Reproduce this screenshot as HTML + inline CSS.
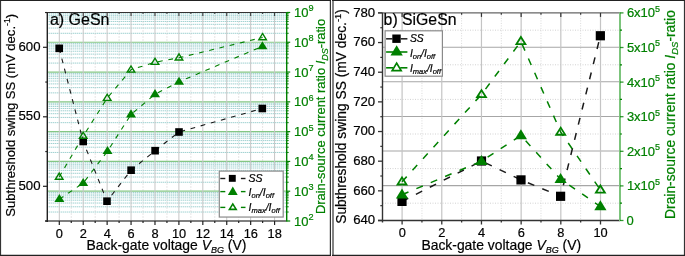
<!DOCTYPE html>
<html><head><meta charset="utf-8"><style>
html,body{margin:0;padding:0;background:#fff;width:685px;height:256px;overflow:hidden}
svg{will-change:transform}
text{font-family:"Liberation Sans",sans-serif;stroke:currentColor;stroke-width:0.2px;paint-order:stroke}
</style></head><body>
<svg width="685" height="256" viewBox="0 0 685 256" style="display:block" font-family='"Liberation Sans", sans-serif'><rect width="685" height="256" fill="#fff"/><line x1="47.3" x2="286.7" y1="212.03" y2="212.03" stroke="#4aa8a8" stroke-width="1" stroke-dasharray="1 1" opacity="0.75"/>
<line x1="47.3" x2="286.7" y1="206.79" y2="206.79" stroke="#4aa8a8" stroke-width="1" stroke-dasharray="1 1" opacity="0.75"/>
<line x1="47.3" x2="286.7" y1="203.06" y2="203.06" stroke="#4aa8a8" stroke-width="1" stroke-dasharray="1 1" opacity="0.75"/>
<line x1="47.3" x2="286.7" y1="200.18" y2="200.18" stroke="#4aa8a8" stroke-width="1" stroke-dasharray="1 1" opacity="0.75"/>
<line x1="47.3" x2="286.7" y1="197.82" y2="197.82" stroke="#4aa8a8" stroke-width="1" stroke-dasharray="1 1" opacity="0.75"/>
<line x1="47.3" x2="286.7" y1="195.82" y2="195.82" stroke="#4aa8a8" stroke-width="1" stroke-dasharray="1 1" opacity="0.75"/>
<line x1="47.3" x2="286.7" y1="194.1" y2="194.1" stroke="#4aa8a8" stroke-width="1" stroke-dasharray="1 1" opacity="0.75"/>
<line x1="47.3" x2="286.7" y1="192.57" y2="192.57" stroke="#4aa8a8" stroke-width="1" stroke-dasharray="1 1" opacity="0.75"/>
<line x1="47.3" x2="286.7" y1="182.24" y2="182.24" stroke="#4aa8a8" stroke-width="1" stroke-dasharray="1 1" opacity="0.75"/>
<line x1="47.3" x2="286.7" y1="177" y2="177" stroke="#4aa8a8" stroke-width="1" stroke-dasharray="1 1" opacity="0.75"/>
<line x1="47.3" x2="286.7" y1="173.27" y2="173.27" stroke="#4aa8a8" stroke-width="1" stroke-dasharray="1 1" opacity="0.75"/>
<line x1="47.3" x2="286.7" y1="170.39" y2="170.39" stroke="#4aa8a8" stroke-width="1" stroke-dasharray="1 1" opacity="0.75"/>
<line x1="47.3" x2="286.7" y1="168.03" y2="168.03" stroke="#4aa8a8" stroke-width="1" stroke-dasharray="1 1" opacity="0.75"/>
<line x1="47.3" x2="286.7" y1="166.03" y2="166.03" stroke="#4aa8a8" stroke-width="1" stroke-dasharray="1 1" opacity="0.75"/>
<line x1="47.3" x2="286.7" y1="164.31" y2="164.31" stroke="#4aa8a8" stroke-width="1" stroke-dasharray="1 1" opacity="0.75"/>
<line x1="47.3" x2="286.7" y1="162.78" y2="162.78" stroke="#4aa8a8" stroke-width="1" stroke-dasharray="1 1" opacity="0.75"/>
<line x1="47.3" x2="286.7" y1="152.45" y2="152.45" stroke="#4aa8a8" stroke-width="1" stroke-dasharray="1 1" opacity="0.75"/>
<line x1="47.3" x2="286.7" y1="147.21" y2="147.21" stroke="#4aa8a8" stroke-width="1" stroke-dasharray="1 1" opacity="0.75"/>
<line x1="47.3" x2="286.7" y1="143.48" y2="143.48" stroke="#4aa8a8" stroke-width="1" stroke-dasharray="1 1" opacity="0.75"/>
<line x1="47.3" x2="286.7" y1="140.6" y2="140.6" stroke="#4aa8a8" stroke-width="1" stroke-dasharray="1 1" opacity="0.75"/>
<line x1="47.3" x2="286.7" y1="138.24" y2="138.24" stroke="#4aa8a8" stroke-width="1" stroke-dasharray="1 1" opacity="0.75"/>
<line x1="47.3" x2="286.7" y1="136.24" y2="136.24" stroke="#4aa8a8" stroke-width="1" stroke-dasharray="1 1" opacity="0.75"/>
<line x1="47.3" x2="286.7" y1="134.52" y2="134.52" stroke="#4aa8a8" stroke-width="1" stroke-dasharray="1 1" opacity="0.75"/>
<line x1="47.3" x2="286.7" y1="132.99" y2="132.99" stroke="#4aa8a8" stroke-width="1" stroke-dasharray="1 1" opacity="0.75"/>
<line x1="47.3" x2="286.7" y1="122.66" y2="122.66" stroke="#4aa8a8" stroke-width="1" stroke-dasharray="1 1" opacity="0.75"/>
<line x1="47.3" x2="286.7" y1="117.42" y2="117.42" stroke="#4aa8a8" stroke-width="1" stroke-dasharray="1 1" opacity="0.75"/>
<line x1="47.3" x2="286.7" y1="113.69" y2="113.69" stroke="#4aa8a8" stroke-width="1" stroke-dasharray="1 1" opacity="0.75"/>
<line x1="47.3" x2="286.7" y1="110.81" y2="110.81" stroke="#4aa8a8" stroke-width="1" stroke-dasharray="1 1" opacity="0.75"/>
<line x1="47.3" x2="286.7" y1="108.45" y2="108.45" stroke="#4aa8a8" stroke-width="1" stroke-dasharray="1 1" opacity="0.75"/>
<line x1="47.3" x2="286.7" y1="106.45" y2="106.45" stroke="#4aa8a8" stroke-width="1" stroke-dasharray="1 1" opacity="0.75"/>
<line x1="47.3" x2="286.7" y1="104.73" y2="104.73" stroke="#4aa8a8" stroke-width="1" stroke-dasharray="1 1" opacity="0.75"/>
<line x1="47.3" x2="286.7" y1="103.2" y2="103.2" stroke="#4aa8a8" stroke-width="1" stroke-dasharray="1 1" opacity="0.75"/>
<line x1="47.3" x2="286.7" y1="92.87" y2="92.87" stroke="#4aa8a8" stroke-width="1" stroke-dasharray="1 1" opacity="0.75"/>
<line x1="47.3" x2="286.7" y1="87.63" y2="87.63" stroke="#4aa8a8" stroke-width="1" stroke-dasharray="1 1" opacity="0.75"/>
<line x1="47.3" x2="286.7" y1="83.9" y2="83.9" stroke="#4aa8a8" stroke-width="1" stroke-dasharray="1 1" opacity="0.75"/>
<line x1="47.3" x2="286.7" y1="81.02" y2="81.02" stroke="#4aa8a8" stroke-width="1" stroke-dasharray="1 1" opacity="0.75"/>
<line x1="47.3" x2="286.7" y1="78.66" y2="78.66" stroke="#4aa8a8" stroke-width="1" stroke-dasharray="1 1" opacity="0.75"/>
<line x1="47.3" x2="286.7" y1="76.66" y2="76.66" stroke="#4aa8a8" stroke-width="1" stroke-dasharray="1 1" opacity="0.75"/>
<line x1="47.3" x2="286.7" y1="74.94" y2="74.94" stroke="#4aa8a8" stroke-width="1" stroke-dasharray="1 1" opacity="0.75"/>
<line x1="47.3" x2="286.7" y1="73.41" y2="73.41" stroke="#4aa8a8" stroke-width="1" stroke-dasharray="1 1" opacity="0.75"/>
<line x1="47.3" x2="286.7" y1="63.08" y2="63.08" stroke="#4aa8a8" stroke-width="1" stroke-dasharray="1 1" opacity="0.75"/>
<line x1="47.3" x2="286.7" y1="57.84" y2="57.84" stroke="#4aa8a8" stroke-width="1" stroke-dasharray="1 1" opacity="0.75"/>
<line x1="47.3" x2="286.7" y1="54.11" y2="54.11" stroke="#4aa8a8" stroke-width="1" stroke-dasharray="1 1" opacity="0.75"/>
<line x1="47.3" x2="286.7" y1="51.23" y2="51.23" stroke="#4aa8a8" stroke-width="1" stroke-dasharray="1 1" opacity="0.75"/>
<line x1="47.3" x2="286.7" y1="48.87" y2="48.87" stroke="#4aa8a8" stroke-width="1" stroke-dasharray="1 1" opacity="0.75"/>
<line x1="47.3" x2="286.7" y1="46.87" y2="46.87" stroke="#4aa8a8" stroke-width="1" stroke-dasharray="1 1" opacity="0.75"/>
<line x1="47.3" x2="286.7" y1="45.15" y2="45.15" stroke="#4aa8a8" stroke-width="1" stroke-dasharray="1 1" opacity="0.75"/>
<line x1="47.3" x2="286.7" y1="43.62" y2="43.62" stroke="#4aa8a8" stroke-width="1" stroke-dasharray="1 1" opacity="0.75"/>
<line x1="47.3" x2="286.7" y1="33.29" y2="33.29" stroke="#4aa8a8" stroke-width="1" stroke-dasharray="1 1" opacity="0.75"/>
<line x1="47.3" x2="286.7" y1="28.05" y2="28.05" stroke="#4aa8a8" stroke-width="1" stroke-dasharray="1 1" opacity="0.75"/>
<line x1="47.3" x2="286.7" y1="24.32" y2="24.32" stroke="#4aa8a8" stroke-width="1" stroke-dasharray="1 1" opacity="0.75"/>
<line x1="47.3" x2="286.7" y1="21.44" y2="21.44" stroke="#4aa8a8" stroke-width="1" stroke-dasharray="1 1" opacity="0.75"/>
<line x1="47.3" x2="286.7" y1="19.08" y2="19.08" stroke="#4aa8a8" stroke-width="1" stroke-dasharray="1 1" opacity="0.75"/>
<line x1="47.3" x2="286.7" y1="17.08" y2="17.08" stroke="#4aa8a8" stroke-width="1" stroke-dasharray="1 1" opacity="0.75"/>
<line x1="47.3" x2="286.7" y1="15.36" y2="15.36" stroke="#4aa8a8" stroke-width="1" stroke-dasharray="1 1" opacity="0.75"/>
<line x1="47.3" x2="286.7" y1="13.83" y2="13.83" stroke="#4aa8a8" stroke-width="1" stroke-dasharray="1 1" opacity="0.75"/>
<line x1="71.26" x2="71.26" y1="12.5" y2="221.0" stroke="#ccc" stroke-width="1" stroke-dasharray="1 2"/>
<line x1="95.18" x2="95.18" y1="12.5" y2="221.0" stroke="#ccc" stroke-width="1" stroke-dasharray="1 2"/>
<line x1="119.1" x2="119.1" y1="12.5" y2="221.0" stroke="#ccc" stroke-width="1" stroke-dasharray="1 2"/>
<line x1="143.02" x2="143.02" y1="12.5" y2="221.0" stroke="#ccc" stroke-width="1" stroke-dasharray="1 2"/>
<line x1="166.94" x2="166.94" y1="12.5" y2="221.0" stroke="#ccc" stroke-width="1" stroke-dasharray="1 2"/>
<line x1="190.86" x2="190.86" y1="12.5" y2="221.0" stroke="#ccc" stroke-width="1" stroke-dasharray="1 2"/>
<line x1="214.78" x2="214.78" y1="12.5" y2="221.0" stroke="#ccc" stroke-width="1" stroke-dasharray="1 2"/>
<line x1="238.7" x2="238.7" y1="12.5" y2="221.0" stroke="#ccc" stroke-width="1" stroke-dasharray="1 2"/>
<line x1="262.62" x2="262.62" y1="12.5" y2="221.0" stroke="#ccc" stroke-width="1" stroke-dasharray="1 2"/>
<line x1="47.3" x2="286.7" y1="191.21" y2="191.21" stroke="#84c784" stroke-width="1.2"/>
<line x1="47.3" x2="286.7" y1="161.42" y2="161.42" stroke="#84c784" stroke-width="1.2"/>
<line x1="47.3" x2="286.7" y1="131.63" y2="131.63" stroke="#84c784" stroke-width="1.2"/>
<line x1="47.3" x2="286.7" y1="101.84" y2="101.84" stroke="#84c784" stroke-width="1.2"/>
<line x1="47.3" x2="286.7" y1="72.05" y2="72.05" stroke="#84c784" stroke-width="1.2"/>
<line x1="47.3" x2="286.7" y1="42.26" y2="42.26" stroke="#84c784" stroke-width="1.2"/>
<line x1="59.3" x2="59.3" y1="12.5" y2="221.0" stroke="#c6c6c6" stroke-width="1"/>
<line x1="83.22" x2="83.22" y1="12.5" y2="221.0" stroke="#c6c6c6" stroke-width="1"/>
<line x1="107.14" x2="107.14" y1="12.5" y2="221.0" stroke="#c6c6c6" stroke-width="1"/>
<line x1="131.06" x2="131.06" y1="12.5" y2="221.0" stroke="#c6c6c6" stroke-width="1"/>
<line x1="154.98" x2="154.98" y1="12.5" y2="221.0" stroke="#c6c6c6" stroke-width="1"/>
<line x1="178.9" x2="178.9" y1="12.5" y2="221.0" stroke="#c6c6c6" stroke-width="1"/>
<line x1="202.82" x2="202.82" y1="12.5" y2="221.0" stroke="#c6c6c6" stroke-width="1"/>
<line x1="226.74" x2="226.74" y1="12.5" y2="221.0" stroke="#c6c6c6" stroke-width="1"/>
<line x1="250.66" x2="250.66" y1="12.5" y2="221.0" stroke="#c6c6c6" stroke-width="1"/>
<line x1="274.58" x2="274.58" y1="12.5" y2="221.0" stroke="#c6c6c6" stroke-width="1"/>
<line x1="45" x2="286.7" y1="12.5" y2="12.5" stroke="#333" stroke-width="1"/>
<line x1="45" x2="286.7" y1="221.0" y2="221.0" stroke="#555" stroke-width="1.4"/>
<line x1="47.3" x2="47.3" y1="12.5" y2="222.0" stroke="#222" stroke-width="1.4"/>
<line x1="43" x2="47.3" y1="186.3" y2="186.3" stroke="#222" stroke-width="1.2"/>
<line x1="43" x2="47.3" y1="116.8" y2="116.8" stroke="#222" stroke-width="1.2"/>
<line x1="43" x2="47.3" y1="47.3" y2="47.3" stroke="#222" stroke-width="1.2"/>
<line x1="45.3" x2="47.3" y1="221.05" y2="221.05" stroke="#222" stroke-width="1.2"/>
<line x1="45.3" x2="47.3" y1="151.55" y2="151.55" stroke="#222" stroke-width="1.2"/>
<line x1="45.3" x2="47.3" y1="82.05" y2="82.05" stroke="#222" stroke-width="1.2"/>
<line x1="45.3" x2="47.3" y1="12.55" y2="12.55" stroke="#222" stroke-width="1.2"/>
<line x1="59.3" x2="59.3" y1="221.0" y2="225" stroke="#222" stroke-width="1.2"/>
<line x1="59.3" x2="59.3" y1="12.5" y2="16" stroke="#333" stroke-width="1"/>
<line x1="71.26" x2="71.26" y1="221.0" y2="223" stroke="#222" stroke-width="1.2"/>
<line x1="71.26" x2="71.26" y1="12.5" y2="14" stroke="#333" stroke-width="1"/>
<line x1="83.22" x2="83.22" y1="221.0" y2="225" stroke="#222" stroke-width="1.2"/>
<line x1="83.22" x2="83.22" y1="12.5" y2="16" stroke="#333" stroke-width="1"/>
<line x1="95.18" x2="95.18" y1="221.0" y2="223" stroke="#222" stroke-width="1.2"/>
<line x1="95.18" x2="95.18" y1="12.5" y2="14" stroke="#333" stroke-width="1"/>
<line x1="107.14" x2="107.14" y1="221.0" y2="225" stroke="#222" stroke-width="1.2"/>
<line x1="107.14" x2="107.14" y1="12.5" y2="16" stroke="#333" stroke-width="1"/>
<line x1="119.1" x2="119.1" y1="221.0" y2="223" stroke="#222" stroke-width="1.2"/>
<line x1="119.1" x2="119.1" y1="12.5" y2="14" stroke="#333" stroke-width="1"/>
<line x1="131.06" x2="131.06" y1="221.0" y2="225" stroke="#222" stroke-width="1.2"/>
<line x1="131.06" x2="131.06" y1="12.5" y2="16" stroke="#333" stroke-width="1"/>
<line x1="143.02" x2="143.02" y1="221.0" y2="223" stroke="#222" stroke-width="1.2"/>
<line x1="143.02" x2="143.02" y1="12.5" y2="14" stroke="#333" stroke-width="1"/>
<line x1="154.98" x2="154.98" y1="221.0" y2="225" stroke="#222" stroke-width="1.2"/>
<line x1="154.98" x2="154.98" y1="12.5" y2="16" stroke="#333" stroke-width="1"/>
<line x1="166.94" x2="166.94" y1="221.0" y2="223" stroke="#222" stroke-width="1.2"/>
<line x1="166.94" x2="166.94" y1="12.5" y2="14" stroke="#333" stroke-width="1"/>
<line x1="178.9" x2="178.9" y1="221.0" y2="225" stroke="#222" stroke-width="1.2"/>
<line x1="178.9" x2="178.9" y1="12.5" y2="16" stroke="#333" stroke-width="1"/>
<line x1="190.86" x2="190.86" y1="221.0" y2="223" stroke="#222" stroke-width="1.2"/>
<line x1="190.86" x2="190.86" y1="12.5" y2="14" stroke="#333" stroke-width="1"/>
<line x1="202.82" x2="202.82" y1="221.0" y2="225" stroke="#222" stroke-width="1.2"/>
<line x1="202.82" x2="202.82" y1="12.5" y2="16" stroke="#333" stroke-width="1"/>
<line x1="214.78" x2="214.78" y1="221.0" y2="223" stroke="#222" stroke-width="1.2"/>
<line x1="214.78" x2="214.78" y1="12.5" y2="14" stroke="#333" stroke-width="1"/>
<line x1="226.74" x2="226.74" y1="221.0" y2="225" stroke="#222" stroke-width="1.2"/>
<line x1="226.74" x2="226.74" y1="12.5" y2="16" stroke="#333" stroke-width="1"/>
<line x1="238.7" x2="238.7" y1="221.0" y2="223" stroke="#222" stroke-width="1.2"/>
<line x1="238.7" x2="238.7" y1="12.5" y2="14" stroke="#333" stroke-width="1"/>
<line x1="250.66" x2="250.66" y1="221.0" y2="225" stroke="#222" stroke-width="1.2"/>
<line x1="250.66" x2="250.66" y1="12.5" y2="16" stroke="#333" stroke-width="1"/>
<line x1="262.62" x2="262.62" y1="221.0" y2="223" stroke="#222" stroke-width="1.2"/>
<line x1="262.62" x2="262.62" y1="12.5" y2="14" stroke="#333" stroke-width="1"/>
<line x1="274.58" x2="274.58" y1="221.0" y2="225" stroke="#222" stroke-width="1.2"/>
<line x1="274.58" x2="274.58" y1="12.5" y2="16" stroke="#333" stroke-width="1"/>
<line x1="286.7" x2="286.7" y1="12.0" y2="221.5" stroke="#008000" stroke-width="1.4"/>
<line x1="286.7" x2="290.2" y1="221" y2="221" stroke="#008000" stroke-width="1.2"/>
<line x1="286.7" x2="288.7" y1="212.03" y2="212.03" stroke="#008000" stroke-width="1"/>
<line x1="286.7" x2="288.7" y1="206.79" y2="206.79" stroke="#008000" stroke-width="1"/>
<line x1="286.7" x2="288.7" y1="203.06" y2="203.06" stroke="#008000" stroke-width="1"/>
<line x1="286.7" x2="288.7" y1="200.18" y2="200.18" stroke="#008000" stroke-width="1"/>
<line x1="286.7" x2="288.7" y1="197.82" y2="197.82" stroke="#008000" stroke-width="1"/>
<line x1="286.7" x2="288.7" y1="195.82" y2="195.82" stroke="#008000" stroke-width="1"/>
<line x1="286.7" x2="288.7" y1="194.1" y2="194.1" stroke="#008000" stroke-width="1"/>
<line x1="286.7" x2="288.7" y1="192.57" y2="192.57" stroke="#008000" stroke-width="1"/>
<line x1="286.7" x2="290.2" y1="191.21" y2="191.21" stroke="#008000" stroke-width="1.2"/>
<line x1="286.7" x2="288.7" y1="182.24" y2="182.24" stroke="#008000" stroke-width="1"/>
<line x1="286.7" x2="288.7" y1="177" y2="177" stroke="#008000" stroke-width="1"/>
<line x1="286.7" x2="288.7" y1="173.27" y2="173.27" stroke="#008000" stroke-width="1"/>
<line x1="286.7" x2="288.7" y1="170.39" y2="170.39" stroke="#008000" stroke-width="1"/>
<line x1="286.7" x2="288.7" y1="168.03" y2="168.03" stroke="#008000" stroke-width="1"/>
<line x1="286.7" x2="288.7" y1="166.03" y2="166.03" stroke="#008000" stroke-width="1"/>
<line x1="286.7" x2="288.7" y1="164.31" y2="164.31" stroke="#008000" stroke-width="1"/>
<line x1="286.7" x2="288.7" y1="162.78" y2="162.78" stroke="#008000" stroke-width="1"/>
<line x1="286.7" x2="290.2" y1="161.42" y2="161.42" stroke="#008000" stroke-width="1.2"/>
<line x1="286.7" x2="288.7" y1="152.45" y2="152.45" stroke="#008000" stroke-width="1"/>
<line x1="286.7" x2="288.7" y1="147.21" y2="147.21" stroke="#008000" stroke-width="1"/>
<line x1="286.7" x2="288.7" y1="143.48" y2="143.48" stroke="#008000" stroke-width="1"/>
<line x1="286.7" x2="288.7" y1="140.6" y2="140.6" stroke="#008000" stroke-width="1"/>
<line x1="286.7" x2="288.7" y1="138.24" y2="138.24" stroke="#008000" stroke-width="1"/>
<line x1="286.7" x2="288.7" y1="136.24" y2="136.24" stroke="#008000" stroke-width="1"/>
<line x1="286.7" x2="288.7" y1="134.52" y2="134.52" stroke="#008000" stroke-width="1"/>
<line x1="286.7" x2="288.7" y1="132.99" y2="132.99" stroke="#008000" stroke-width="1"/>
<line x1="286.7" x2="290.2" y1="131.63" y2="131.63" stroke="#008000" stroke-width="1.2"/>
<line x1="286.7" x2="288.7" y1="122.66" y2="122.66" stroke="#008000" stroke-width="1"/>
<line x1="286.7" x2="288.7" y1="117.42" y2="117.42" stroke="#008000" stroke-width="1"/>
<line x1="286.7" x2="288.7" y1="113.69" y2="113.69" stroke="#008000" stroke-width="1"/>
<line x1="286.7" x2="288.7" y1="110.81" y2="110.81" stroke="#008000" stroke-width="1"/>
<line x1="286.7" x2="288.7" y1="108.45" y2="108.45" stroke="#008000" stroke-width="1"/>
<line x1="286.7" x2="288.7" y1="106.45" y2="106.45" stroke="#008000" stroke-width="1"/>
<line x1="286.7" x2="288.7" y1="104.73" y2="104.73" stroke="#008000" stroke-width="1"/>
<line x1="286.7" x2="288.7" y1="103.2" y2="103.2" stroke="#008000" stroke-width="1"/>
<line x1="286.7" x2="290.2" y1="101.84" y2="101.84" stroke="#008000" stroke-width="1.2"/>
<line x1="286.7" x2="288.7" y1="92.87" y2="92.87" stroke="#008000" stroke-width="1"/>
<line x1="286.7" x2="288.7" y1="87.63" y2="87.63" stroke="#008000" stroke-width="1"/>
<line x1="286.7" x2="288.7" y1="83.9" y2="83.9" stroke="#008000" stroke-width="1"/>
<line x1="286.7" x2="288.7" y1="81.02" y2="81.02" stroke="#008000" stroke-width="1"/>
<line x1="286.7" x2="288.7" y1="78.66" y2="78.66" stroke="#008000" stroke-width="1"/>
<line x1="286.7" x2="288.7" y1="76.66" y2="76.66" stroke="#008000" stroke-width="1"/>
<line x1="286.7" x2="288.7" y1="74.94" y2="74.94" stroke="#008000" stroke-width="1"/>
<line x1="286.7" x2="288.7" y1="73.41" y2="73.41" stroke="#008000" stroke-width="1"/>
<line x1="286.7" x2="290.2" y1="72.05" y2="72.05" stroke="#008000" stroke-width="1.2"/>
<line x1="286.7" x2="288.7" y1="63.08" y2="63.08" stroke="#008000" stroke-width="1"/>
<line x1="286.7" x2="288.7" y1="57.84" y2="57.84" stroke="#008000" stroke-width="1"/>
<line x1="286.7" x2="288.7" y1="54.11" y2="54.11" stroke="#008000" stroke-width="1"/>
<line x1="286.7" x2="288.7" y1="51.23" y2="51.23" stroke="#008000" stroke-width="1"/>
<line x1="286.7" x2="288.7" y1="48.87" y2="48.87" stroke="#008000" stroke-width="1"/>
<line x1="286.7" x2="288.7" y1="46.87" y2="46.87" stroke="#008000" stroke-width="1"/>
<line x1="286.7" x2="288.7" y1="45.15" y2="45.15" stroke="#008000" stroke-width="1"/>
<line x1="286.7" x2="288.7" y1="43.62" y2="43.62" stroke="#008000" stroke-width="1"/>
<line x1="286.7" x2="290.2" y1="42.26" y2="42.26" stroke="#008000" stroke-width="1.2"/>
<line x1="286.7" x2="288.7" y1="33.29" y2="33.29" stroke="#008000" stroke-width="1"/>
<line x1="286.7" x2="288.7" y1="28.05" y2="28.05" stroke="#008000" stroke-width="1"/>
<line x1="286.7" x2="288.7" y1="24.32" y2="24.32" stroke="#008000" stroke-width="1"/>
<line x1="286.7" x2="288.7" y1="21.44" y2="21.44" stroke="#008000" stroke-width="1"/>
<line x1="286.7" x2="288.7" y1="19.08" y2="19.08" stroke="#008000" stroke-width="1"/>
<line x1="286.7" x2="288.7" y1="17.08" y2="17.08" stroke="#008000" stroke-width="1"/>
<line x1="286.7" x2="288.7" y1="15.36" y2="15.36" stroke="#008000" stroke-width="1"/>
<line x1="286.7" x2="288.7" y1="13.83" y2="13.83" stroke="#008000" stroke-width="1"/>
<line x1="286.7" x2="290.2" y1="12.47" y2="12.47" stroke="#008000" stroke-width="1.2"/>
<polyline points="59.2,48.35 83.2,141.5 107,201.2 131.1,170.2 155.1,150.7 179,132 262.3,108.5" fill="none" stroke="#1a1a1a" stroke-width="1.1" stroke-dasharray="4.8 5.7"/>
<polyline points="59.4,199.14 83.2,183.11 107.5,151.19 131,114.49 155,94.24 179,81.81 262.4,46.34" fill="none" stroke="#008000" stroke-width="1.1" stroke-dasharray="4.8 5.7"/>
<polyline points="59.2,176.92 83.2,136.09 107.2,98.09 131,69.75 155,62.22 179,57.78 262.6,37.47" fill="none" stroke="#008000" stroke-width="1.1" stroke-dasharray="4.8 5.7"/>
<rect x="55.4" y="44.55" width="7.6" height="7.6" fill="#000"/>
<rect x="79.4" y="137.7" width="7.6" height="7.6" fill="#000"/>
<rect x="103.2" y="197.4" width="7.6" height="7.6" fill="#000"/>
<rect x="127.3" y="166.4" width="7.6" height="7.6" fill="#000"/>
<rect x="151.3" y="146.9" width="7.6" height="7.6" fill="#000"/>
<rect x="175.2" y="128.2" width="7.6" height="7.6" fill="#000"/>
<rect x="258.5" y="104.7" width="7.6" height="7.6" fill="#000"/>
<polygon points="59.4,193.93 54.4,202.03 64.4,202.03" fill="#008000"/>
<polygon points="83.2,178 78.2,186.1 88.2,186.1" fill="#008000"/>
<polygon points="107.5,146 102.5,154.1 112.5,154.1" fill="#008000"/>
<polygon points="131,109.3 126,117.4 136,117.4" fill="#008000"/>
<polygon points="155,89.1 150,97.2 160,97.2" fill="#008000"/>
<polygon points="179,76.7 174,84.8 184,84.8" fill="#008000"/>
<polygon points="262.4,41.2 257.4,49.3 267.4,49.3" fill="#008000"/>
<path d="M59.2,171.75 L54.15,179.95 L64.25,179.95 Z M59.2,174.42 L56.66,178.55 L61.74,178.55 Z" fill="#008000" fill-rule="evenodd"/>
<path d="M83.2,130.9 L78.15,139.1 L88.25,139.1 Z M83.2,133.57 L80.66,137.7 L85.74,137.7 Z" fill="#008000" fill-rule="evenodd"/>
<path d="M107.2,92.9 L102.15,101.1 L112.25,101.1 Z M107.2,95.57 L104.66,99.7 L109.74,99.7 Z" fill="#008000" fill-rule="evenodd"/>
<path d="M131,64.65 L125.95,72.85 L136.05,72.85 Z M131,67.32 L128.46,71.45 L133.54,71.45 Z" fill="#008000" fill-rule="evenodd"/>
<path d="M155,56.9 L149.95,65.1 L160.05,65.1 Z M155,59.57 L152.46,63.7 L157.54,63.7 Z" fill="#008000" fill-rule="evenodd"/>
<path d="M179,52.55 L173.95,60.75 L184.05,60.75 Z M179,55.22 L176.46,59.35 L181.54,59.35 Z" fill="#008000" fill-rule="evenodd"/>
<path d="M262.6,32.2 L257.55,40.4 L267.65,40.4 Z M262.6,34.87 L260.06,39 L265.14,39 Z" fill="#008000" fill-rule="evenodd"/>
<rect x="219.3" y="171.1" width="63.9" height="45.95" fill="#fff" stroke="#8a8a8a" stroke-width="1.2"/>
<line x1="220.3" x2="225.3" y1="178.5" y2="178.5" stroke="#1a1a1a" stroke-width="1.4"/>
<line x1="240.9" x2="245.5" y1="178.5" y2="178.5" stroke="#1a1a1a" stroke-width="1.4"/>
<line x1="220.3" x2="225.3" y1="191.6" y2="191.6" stroke="#008000" stroke-width="1.4"/>
<line x1="240.9" x2="245.5" y1="191.6" y2="191.6" stroke="#008000" stroke-width="1.4"/>
<line x1="220.3" x2="225.3" y1="207.4" y2="207.4" stroke="#008000" stroke-width="1.4"/>
<line x1="240.9" x2="245.5" y1="207.4" y2="207.4" stroke="#008000" stroke-width="1.4"/>
<rect x="228.85" y="174.9" width="6.9" height="6.9" fill="#000"/>
<polygon points="232.8,186.4 227.9,194.9 237.7,194.9" fill="#008000"/>
<path d="M232.8,202.4 L228,210.2 L237.6,210.2 Z M232.8,205.45 L230.86,208.6 L234.74,208.6 Z" fill="#008000" fill-rule="evenodd"/>
<line x1="382.5" x2="620.0" y1="203.2" y2="203.2" stroke="#d2d2d2" stroke-width="1" stroke-dasharray="1 1.5"/>
<line x1="382.5" x2="620.0" y1="168.6" y2="168.6" stroke="#d2d2d2" stroke-width="1" stroke-dasharray="1 1.5"/>
<line x1="382.5" x2="620.0" y1="134" y2="134" stroke="#d2d2d2" stroke-width="1" stroke-dasharray="1 1.5"/>
<line x1="382.5" x2="620.0" y1="99.4" y2="99.4" stroke="#d2d2d2" stroke-width="1" stroke-dasharray="1 1.5"/>
<line x1="382.5" x2="620.0" y1="64.8" y2="64.8" stroke="#d2d2d2" stroke-width="1" stroke-dasharray="1 1.5"/>
<line x1="382.5" x2="620.0" y1="30.2" y2="30.2" stroke="#d2d2d2" stroke-width="1" stroke-dasharray="1 1.5"/>
<line x1="421.94" x2="421.94" y1="12.9" y2="220.5" stroke="#d8d8d8" stroke-width="1" stroke-dasharray="1 1.5"/>
<line x1="461.62" x2="461.62" y1="12.9" y2="220.5" stroke="#d8d8d8" stroke-width="1" stroke-dasharray="1 1.5"/>
<line x1="501.3" x2="501.3" y1="12.9" y2="220.5" stroke="#d8d8d8" stroke-width="1" stroke-dasharray="1 1.5"/>
<line x1="540.98" x2="540.98" y1="12.9" y2="220.5" stroke="#d8d8d8" stroke-width="1" stroke-dasharray="1 1.5"/>
<line x1="580.66" x2="580.66" y1="12.9" y2="220.5" stroke="#d8d8d8" stroke-width="1" stroke-dasharray="1 1.5"/>
<line x1="382.5" x2="620.0" y1="185.6" y2="185.6" stroke="#a6a6a6" stroke-width="1.05"/>
<line x1="382.5" x2="620.0" y1="151" y2="151" stroke="#a6a6a6" stroke-width="1.05"/>
<line x1="382.5" x2="620.0" y1="116.4" y2="116.4" stroke="#a6a6a6" stroke-width="1.05"/>
<line x1="382.5" x2="620.0" y1="81.8" y2="81.8" stroke="#a6a6a6" stroke-width="1.05"/>
<line x1="382.5" x2="620.0" y1="47.2" y2="47.2" stroke="#a6a6a6" stroke-width="1.05"/>
<line x1="402.1" x2="402.1" y1="12.9" y2="220.5" stroke="#c4c4c4" stroke-width="1.2"/>
<line x1="441.78" x2="441.78" y1="12.9" y2="220.5" stroke="#c4c4c4" stroke-width="1.2"/>
<line x1="481.46" x2="481.46" y1="12.9" y2="220.5" stroke="#c4c4c4" stroke-width="1.2"/>
<line x1="521.14" x2="521.14" y1="12.9" y2="220.5" stroke="#c4c4c4" stroke-width="1.2"/>
<line x1="560.82" x2="560.82" y1="12.9" y2="220.5" stroke="#c4c4c4" stroke-width="1.2"/>
<line x1="600.5" x2="600.5" y1="12.9" y2="220.5" stroke="#c4c4c4" stroke-width="1.2"/>
<line x1="378" x2="620.0" y1="12.9" y2="12.9" stroke="#666" stroke-width="1.2"/>
<line x1="378" x2="620.0" y1="220.5" y2="220.5" stroke="#333" stroke-width="1.4"/>
<line x1="382.5" x2="382.5" y1="12.9" y2="222.5" stroke="#333" stroke-width="1.4"/>
<line x1="378" x2="382.5" y1="220.5" y2="220.5" stroke="#333" stroke-width="1.3"/>
<line x1="378" x2="382.5" y1="190.84" y2="190.84" stroke="#333" stroke-width="1.3"/>
<line x1="378" x2="382.5" y1="161.18" y2="161.18" stroke="#333" stroke-width="1.3"/>
<line x1="378" x2="382.5" y1="131.53" y2="131.53" stroke="#333" stroke-width="1.3"/>
<line x1="378" x2="382.5" y1="101.87" y2="101.87" stroke="#333" stroke-width="1.3"/>
<line x1="378" x2="382.5" y1="72.21" y2="72.21" stroke="#333" stroke-width="1.3"/>
<line x1="378" x2="382.5" y1="42.55" y2="42.55" stroke="#333" stroke-width="1.3"/>
<line x1="378" x2="382.5" y1="12.89" y2="12.89" stroke="#333" stroke-width="1.3"/>
<line x1="380.3" x2="382.5" y1="205.67" y2="205.67" stroke="#333" stroke-width="1.2"/>
<line x1="380.3" x2="382.5" y1="176.01" y2="176.01" stroke="#333" stroke-width="1.2"/>
<line x1="380.3" x2="382.5" y1="146.35" y2="146.35" stroke="#333" stroke-width="1.2"/>
<line x1="380.3" x2="382.5" y1="116.7" y2="116.7" stroke="#333" stroke-width="1.2"/>
<line x1="380.3" x2="382.5" y1="87.04" y2="87.04" stroke="#333" stroke-width="1.2"/>
<line x1="380.3" x2="382.5" y1="57.38" y2="57.38" stroke="#333" stroke-width="1.2"/>
<line x1="380.3" x2="382.5" y1="27.72" y2="27.72" stroke="#333" stroke-width="1.2"/>
<line x1="402.1" x2="402.1" y1="220.5" y2="224.5" stroke="#333" stroke-width="1.3"/>
<line x1="402.1" x2="402.1" y1="12.9" y2="16.9" stroke="#333" stroke-width="1.2"/>
<line x1="421.94" x2="421.94" y1="220.5" y2="222.5" stroke="#333" stroke-width="1.3"/>
<line x1="421.94" x2="421.94" y1="12.9" y2="14.7" stroke="#333" stroke-width="1.2"/>
<line x1="441.78" x2="441.78" y1="220.5" y2="224.5" stroke="#333" stroke-width="1.3"/>
<line x1="441.78" x2="441.78" y1="12.9" y2="16.9" stroke="#333" stroke-width="1.2"/>
<line x1="461.62" x2="461.62" y1="220.5" y2="222.5" stroke="#333" stroke-width="1.3"/>
<line x1="461.62" x2="461.62" y1="12.9" y2="14.7" stroke="#333" stroke-width="1.2"/>
<line x1="481.46" x2="481.46" y1="220.5" y2="224.5" stroke="#333" stroke-width="1.3"/>
<line x1="481.46" x2="481.46" y1="12.9" y2="16.9" stroke="#333" stroke-width="1.2"/>
<line x1="501.3" x2="501.3" y1="220.5" y2="222.5" stroke="#333" stroke-width="1.3"/>
<line x1="501.3" x2="501.3" y1="12.9" y2="14.7" stroke="#333" stroke-width="1.2"/>
<line x1="521.14" x2="521.14" y1="220.5" y2="224.5" stroke="#333" stroke-width="1.3"/>
<line x1="521.14" x2="521.14" y1="12.9" y2="16.9" stroke="#333" stroke-width="1.2"/>
<line x1="540.98" x2="540.98" y1="220.5" y2="222.5" stroke="#333" stroke-width="1.3"/>
<line x1="540.98" x2="540.98" y1="12.9" y2="14.7" stroke="#333" stroke-width="1.2"/>
<line x1="560.82" x2="560.82" y1="220.5" y2="224.5" stroke="#333" stroke-width="1.3"/>
<line x1="560.82" x2="560.82" y1="12.9" y2="16.9" stroke="#333" stroke-width="1.2"/>
<line x1="580.66" x2="580.66" y1="220.5" y2="222.5" stroke="#333" stroke-width="1.3"/>
<line x1="580.66" x2="580.66" y1="12.9" y2="14.7" stroke="#333" stroke-width="1.2"/>
<line x1="600.5" x2="600.5" y1="220.5" y2="224.5" stroke="#333" stroke-width="1.3"/>
<line x1="600.5" x2="600.5" y1="12.9" y2="16.9" stroke="#333" stroke-width="1.2"/>
<line x1="620.0" x2="620.0" y1="12.4" y2="221.0" stroke="#7cc47c" stroke-width="2"/>
<line x1="620.0" x2="623.5" y1="220.5" y2="220.5" stroke="#008000" stroke-width="1.3" opacity="0.8"/>
<line x1="620.0" x2="623.5" y1="185.9" y2="185.9" stroke="#008000" stroke-width="1.3" opacity="0.8"/>
<line x1="620.0" x2="623.5" y1="151.3" y2="151.3" stroke="#008000" stroke-width="1.3" opacity="0.8"/>
<line x1="620.0" x2="623.5" y1="116.7" y2="116.7" stroke="#008000" stroke-width="1.3" opacity="0.8"/>
<line x1="620.0" x2="623.5" y1="82.1" y2="82.1" stroke="#008000" stroke-width="1.3" opacity="0.8"/>
<line x1="620.0" x2="623.5" y1="47.5" y2="47.5" stroke="#008000" stroke-width="1.3" opacity="0.8"/>
<line x1="620.0" x2="623.5" y1="12.9" y2="12.9" stroke="#008000" stroke-width="1.3" opacity="0.8"/>
<line x1="620.0" x2="622.0" y1="203.2" y2="203.2" stroke="#008000" stroke-width="1.2"/>
<line x1="620.0" x2="622.0" y1="168.6" y2="168.6" stroke="#008000" stroke-width="1.2"/>
<line x1="620.0" x2="622.0" y1="134" y2="134" stroke="#008000" stroke-width="1.2"/>
<line x1="620.0" x2="622.0" y1="99.4" y2="99.4" stroke="#008000" stroke-width="1.2"/>
<line x1="620.0" x2="622.0" y1="64.8" y2="64.8" stroke="#008000" stroke-width="1.2"/>
<line x1="620.0" x2="622.0" y1="30.2" y2="30.2" stroke="#008000" stroke-width="1.2"/>
<polyline points="402,201.4 481.5,161 521,179.9 560.6,196.3 600.35,35.75" fill="none" stroke="#1a1a1a" stroke-width="1.5" stroke-dasharray="7 8.6"/>
<polyline points="402,194.75 481.5,161.15 520.9,135.55 560.6,179.2 600.4,206.5" fill="none" stroke="#008000" stroke-width="1.5" stroke-dasharray="7 8.6"/>
<polyline points="402,181.8 481.5,94.48 520.9,41.45 560.7,132.05 600.4,189.9" fill="none" stroke="#008000" stroke-width="1.5" stroke-dasharray="7 8.6"/>
<rect x="397.4" y="196.8" width="9.2" height="9.2" fill="#000"/>
<rect x="476.9" y="156.4" width="9.2" height="9.2" fill="#000"/>
<rect x="516.4" y="175.3" width="9.2" height="9.2" fill="#000"/>
<rect x="556" y="191.7" width="9.2" height="9.2" fill="#000"/>
<rect x="595.75" y="31.15" width="9.2" height="9.2" fill="#000"/>
<polygon points="402,188.55 395.9,198.55 408.1,198.55" fill="#008000"/>
<polygon points="481.5,154.95 475.4,164.95 487.6,164.95" fill="#008000"/>
<polygon points="520.9,129.35 514.8,139.35 527,139.35" fill="#008000"/>
<polygon points="560.6,173 554.5,183 566.7,183" fill="#008000"/>
<polygon points="600.4,200.3 594.3,210.3 606.5,210.3" fill="#008000"/>
<path d="M402,175.7 L395.9,185.4 L408.1,185.4 Z M402,179.08 L399.16,183.6 L404.84,183.6 Z" fill="#008000" fill-rule="evenodd"/>
<path d="M481.5,88.38 L475.4,98.08 L487.6,98.08 Z M481.5,91.76 L478.66,96.28 L484.34,96.28 Z" fill="#008000" fill-rule="evenodd"/>
<path d="M520.9,35.35 L514.8,45.05 L527,45.05 Z M520.9,38.73 L518.06,43.25 L523.74,43.25 Z" fill="#008000" fill-rule="evenodd"/>
<path d="M560.7,125.95 L554.6,135.65 L566.8,135.65 Z M560.7,129.33 L557.86,133.85 L563.54,133.85 Z" fill="#008000" fill-rule="evenodd"/>
<path d="M600.4,183.8 L594.3,193.5 L606.5,193.5 Z M600.4,187.18 L597.56,191.7 L603.24,191.7 Z" fill="#008000" fill-rule="evenodd"/>
<rect x="385.1" y="30.8" width="57.3" height="45.4" fill="#fff" stroke="#8a8a8a" stroke-width="1.2"/>
<line x1="386.1" x2="392.40000000000003" y1="38.8" y2="38.8" stroke="#2a2a2a" stroke-width="1.6"/>
<line x1="400.8" x2="407.4" y1="38.8" y2="38.8" stroke="#2a2a2a" stroke-width="1.6"/>
<line x1="386.1" x2="393.6" y1="52.0" y2="52.0" stroke="#008000" stroke-width="1.6"/>
<line x1="399.6" x2="407.4" y1="52.0" y2="52.0" stroke="#008000" stroke-width="1.6"/>
<line x1="386.1" x2="393.0" y1="67.8" y2="67.8" stroke="#008000" stroke-width="1.6"/>
<line x1="400.20000000000005" x2="407.4" y1="67.8" y2="67.8" stroke="#008000" stroke-width="1.6"/>
<rect x="392.3" y="34.5" width="8.4" height="8.4" fill="#000"/>
<polygon points="396.65,45.2 390.5,55.6 402.8,55.6" fill="#008000"/>
<path d="M396.65,61.4 L390.65,71.5 L402.65,71.5 Z M396.65,64.73 L393.64,69.8 L399.66,69.8 Z" fill="#008000" fill-rule="evenodd"/>
<text x="40.5" y="189.6" font-size="13.2" text-anchor="end" fill="#000" color="#000"  >500</text>
<text x="40.5" y="120.1" font-size="13.2" text-anchor="end" fill="#000" color="#000"  >550</text>
<text x="40.5" y="50.6" font-size="13.2" text-anchor="end" fill="#000" color="#000"  >600</text>
<text x="59.4" y="237.7" font-size="12.8" text-anchor="middle" fill="#000" color="#000"  >0</text>
<text x="83.32" y="237.7" font-size="12.8" text-anchor="middle" fill="#000" color="#000"  >2</text>
<text x="107.24" y="237.7" font-size="12.8" text-anchor="middle" fill="#000" color="#000"  >4</text>
<text x="131.16" y="237.7" font-size="12.8" text-anchor="middle" fill="#000" color="#000"  >6</text>
<text x="155.08" y="237.7" font-size="12.8" text-anchor="middle" fill="#000" color="#000"  >8</text>
<text x="179" y="237.7" font-size="12.8" text-anchor="middle" fill="#000" color="#000"  >10</text>
<text x="202.92" y="237.7" font-size="12.8" text-anchor="middle" fill="#000" color="#000"  >12</text>
<text x="226.84" y="237.7" font-size="12.8" text-anchor="middle" fill="#000" color="#000"  >14</text>
<text x="250.76" y="237.7" font-size="12.8" text-anchor="middle" fill="#000" color="#000"  >16</text>
<text x="274.68" y="237.7" font-size="12.8" text-anchor="middle" fill="#000" color="#000"  >18</text>
<text x="49.9" y="24.9" font-size="16" text-anchor="start" fill="#000" color="#000"  >a) GeSn</text>
<text x="248.6" y="182" font-size="10.5" text-anchor="start" fill="#000" color="#000"  font-style="italic">SS</text>
<text x="248.6" y="196.1" font-size="10.5" text-anchor="start" fill="#000" color="#000"  font-style="italic">I<tspan font-size="7.5" dy="2">on</tspan><tspan dy="-2">/I</tspan><tspan font-size="7.5" dy="2">off</tspan></text>
<text x="248.6" y="211" font-size="10.5" text-anchor="start" fill="#000" color="#000"  font-style="italic">I<tspan font-size="7.5" dy="2">max</tspan><tspan dy="-2">/I</tspan><tspan font-size="7.5" dy="2">off</tspan></text>
<text x="294" y="225.5" font-size="13" fill="#008000" color="#008000">10<tspan font-size="9.2" dy="-5.6">2</tspan></text>
<text x="294" y="195.71" font-size="13" fill="#008000" color="#008000">10<tspan font-size="9.2" dy="-5.6">3</tspan></text>
<text x="294" y="165.92" font-size="13" fill="#008000" color="#008000">10<tspan font-size="9.2" dy="-5.6">4</tspan></text>
<text x="294" y="136.13" font-size="13" fill="#008000" color="#008000">10<tspan font-size="9.2" dy="-5.6">5</tspan></text>
<text x="294" y="106.34" font-size="13" fill="#008000" color="#008000">10<tspan font-size="9.2" dy="-5.6">6</tspan></text>
<text x="294" y="76.55" font-size="13" fill="#008000" color="#008000">10<tspan font-size="9.2" dy="-5.6">7</tspan></text>
<text x="294" y="46.76" font-size="13" fill="#008000" color="#008000">10<tspan font-size="9.2" dy="-5.6">8</tspan></text>
<text x="294" y="16.97" font-size="13" fill="#008000" color="#008000">10<tspan font-size="9.2" dy="-5.6">9</tspan></text>
<text x="86.6" y="249.7" font-size="13.9">Back-gate voltage <tspan font-style="italic">V</tspan><tspan font-style="italic" font-size="9" dy="2.8">BG</tspan><tspan dy="-2.8"> (V)</tspan></text>
<text transform="translate(15,216.7) rotate(-90)" font-size="13.05">Subthreshold swing SS (mV dec.<tspan font-size="8.8" dy="-5.1">-1</tspan><tspan dy="5.1">)</tspan></text>
<text transform="translate(325,214.1) rotate(-90)" font-size="12.9" fill="#008000" color="#008000">Drain-source current ratio <tspan font-style="italic">I</tspan><tspan font-style="italic" font-size="9" dy="2.8">DS</tspan><tspan dy="-2.8">-ratio</tspan></text>
<text x="375.2" y="224.3" font-size="13.2" text-anchor="end" fill="#000" color="#000"  >640</text>
<text x="375.2" y="194.64" font-size="13.2" text-anchor="end" fill="#000" color="#000"  >660</text>
<text x="375.2" y="164.98" font-size="13.2" text-anchor="end" fill="#000" color="#000"  >680</text>
<text x="375.2" y="135.33" font-size="13.2" text-anchor="end" fill="#000" color="#000"  >700</text>
<text x="375.2" y="105.67" font-size="13.2" text-anchor="end" fill="#000" color="#000"  >720</text>
<text x="375.2" y="76.01" font-size="13.2" text-anchor="end" fill="#000" color="#000"  >740</text>
<text x="375.2" y="46.35" font-size="13.2" text-anchor="end" fill="#000" color="#000"  >760</text>
<text x="375.2" y="16.69" font-size="13.2" text-anchor="end" fill="#000" color="#000"  >780</text>
<text x="402.2" y="236.6" font-size="12.8" text-anchor="middle" fill="#000" color="#000"  >0</text>
<text x="441.88" y="236.6" font-size="12.8" text-anchor="middle" fill="#000" color="#000"  >2</text>
<text x="481.56" y="236.6" font-size="12.8" text-anchor="middle" fill="#000" color="#000"  >4</text>
<text x="521.24" y="236.6" font-size="12.8" text-anchor="middle" fill="#000" color="#000"  >6</text>
<text x="560.92" y="236.6" font-size="12.8" text-anchor="middle" fill="#000" color="#000"  >8</text>
<text x="600.6" y="236.6" font-size="12.8" text-anchor="middle" fill="#000" color="#000"  >10</text>
<text x="383.6" y="25" font-size="15.8" text-anchor="start" fill="#000" color="#000"  >b) SiGeSn</text>
<text x="409.9" y="42.2" font-size="10.3" text-anchor="start" fill="#000" color="#000"  font-style="italic">SS</text>
<text x="409.9" y="56.9" font-size="10.3" text-anchor="start" fill="#000" color="#000"  font-style="italic">I<tspan font-size="7.5" dy="2">on</tspan><tspan dy="-2">/I</tspan><tspan font-size="7.5" dy="2">off</tspan></text>
<text x="409.9" y="72.2" font-size="10.3" text-anchor="start" fill="#000" color="#000"  font-style="italic">I<tspan font-size="7.5" dy="2">max</tspan><tspan dy="-2">/I</tspan><tspan font-size="7.5" dy="2">off</tspan></text>
<text x="626.9" y="190.3" font-size="13" fill="#008000" color="#008000">1x10<tspan font-size="9" dy="-5.6">5</tspan></text>
<text x="626.9" y="155.7" font-size="13" fill="#008000" color="#008000">2x10<tspan font-size="9" dy="-5.6">5</tspan></text>
<text x="626.9" y="121.1" font-size="13" fill="#008000" color="#008000">3x10<tspan font-size="9" dy="-5.6">5</tspan></text>
<text x="626.9" y="86.5" font-size="13" fill="#008000" color="#008000">4x10<tspan font-size="9" dy="-5.6">5</tspan></text>
<text x="626.9" y="51.9" font-size="13" fill="#008000" color="#008000">5x10<tspan font-size="9" dy="-5.6">5</tspan></text>
<text x="626.9" y="17.3" font-size="13" fill="#008000" color="#008000">6x10<tspan font-size="9" dy="-5.6">5</tspan></text>
<text x="626.6" y="224.7" font-size="13" fill="#008000" color="#008000">0</text>
<text x="421.4" y="249.7" font-size="13.9">Back-gate voltage <tspan font-style="italic">V</tspan><tspan font-style="italic" font-size="9" dy="2.8">BG</tspan><tspan dy="-2.8"> (V)</tspan></text>
<text transform="translate(346,223.8) rotate(-90)" font-size="13.8">Subthreshold swing SS (mV dec.<tspan font-size="9.3" dy="-5.4">-1</tspan><tspan dy="5.4">)</tspan></text>
<text transform="translate(675,218.9) rotate(-90)" font-size="13.8" fill="#008000" color="#008000">Drain-source current ratio <tspan font-style="italic">I</tspan><tspan font-style="italic" font-size="9.5" dy="3">DS</tspan><tspan dy="-3">-ratio</tspan></text>
<line x1="0.5" x2="0.5" y1="0" y2="256" stroke="#333" stroke-width="1.2"/>
<line x1="330.4" x2="330.4" y1="0" y2="256" stroke="#333" stroke-width="1.2"/>
<line x1="333" x2="333" y1="0" y2="256" stroke="#777" stroke-width="1.8"/>
<line x1="684.5" x2="684.5" y1="0" y2="256" stroke="#333" stroke-width="1.2"/>
<line x1="0" x2="331" y1="0.5" y2="0.5" stroke="#222" stroke-width="1.2"/>
<line x1="332" x2="685" y1="0.5" y2="0.5" stroke="#222" stroke-width="1.2"/>
<line x1="0" x2="331" y1="255.4" y2="255.4" stroke="#222" stroke-width="1.3"/>
<line x1="332" x2="685" y1="255.4" y2="255.4" stroke="#222" stroke-width="1.3"/></svg>
</body></html>
